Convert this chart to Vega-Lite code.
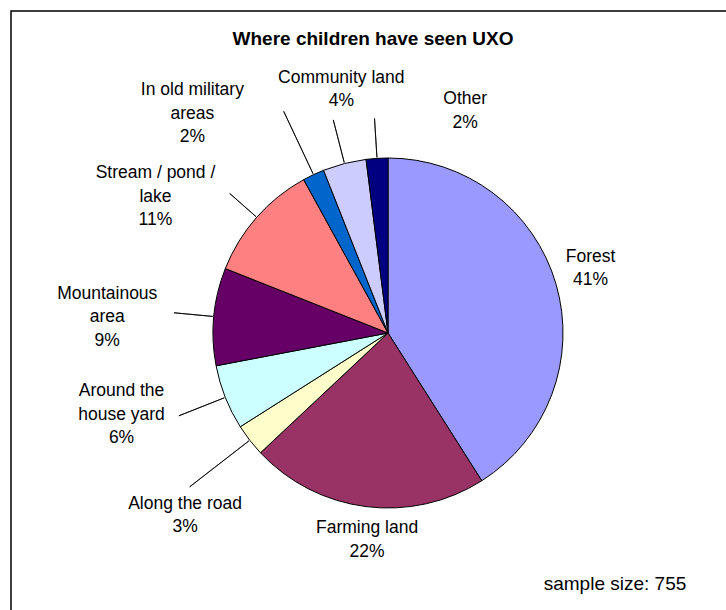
{
  "$schema": "https://vega.github.io/schema/vega-lite/v6.json",
  "autosize": "none",
  "width": 754,
  "height": 644,
  "padding": {"left": 11, "top": 11, "right": -39, "bottom": -45},
  "background": "white",
  "view": {"stroke": "#000000", "strokeWidth": 1.5},
  "config": {"view": {"stroke": "#000000", "strokeWidth": 1.5}, "font": "Liberation Sans"},
  "title": {"text": "Where children have seen UXO", "font": "Liberation Sans", "fontSize": 19, "fontWeight": "bold", "color": "#000000", "anchor": "middle", "frame": "group", "offset": -38, "dx": -15},
  "datasets": {
    "slices": [
      {"category": "Forest", "percent": 41, "rank": 1, "label": "Forest\n41%"},
      {"category": "Farming land", "percent": 22, "rank": 2, "label": "Farming land\n22%"},
      {"category": "Along the road", "percent": 3, "rank": 3, "label": "Along the road\n3%"},
      {"category": "Around the house yard", "percent": 6, "rank": 4, "label": "Around the\nhouse yard\n6%"},
      {"category": "Mountainous area", "percent": 9, "rank": 5, "label": "Mountainous\narea\n9%"},
      {"category": "Stream / pond / lake", "percent": 11, "rank": 6, "label": "Stream / pond /\nlake\n11%"},
      {"category": "In old military areas", "percent": 2, "rank": 7, "label": "In old military\nareas\n2%"},
      {"category": "Community land", "percent": 4, "rank": 8, "label": "Community land\n4%"},
      {"category": "Other", "percent": 2, "rank": 9, "label": "Other\n2%"}
    ],
    "note": [{"text": "sample size: 755"}]
  },
  "layer": [
    {
      "data": {"name": "slices"},
      "mark": {"type": "arc", "radius": 175, "stroke": "#000000", "strokeWidth": 1},
      "encoding": {
        "theta": {"field": "percent", "type": "quantitative", "stack": true},
        "order": {"field": "rank", "type": "quantitative"},
        "color": {
          "field": "category", "type": "nominal", "legend": null,
          "scale": {
            "domain": ["Forest", "Farming land", "Along the road", "Around the house yard", "Mountainous area", "Stream / pond / lake", "In old military areas", "Community land", "Other"],
            "range": ["#9999FF", "#993366", "#FFFFCC", "#CCFFFF", "#660066", "#FF8080", "#0066CC", "#CCCCFF", "#000080"]
          }
        }
      }
    },
    {
      "data": {"name": "slices"},
      "mark": {
        "type": "arc",
        "radius": {"expr": "{'Forest': 175, 'Farming land': 175, 'Along the road': 251, 'Around the house yard': 225, 'Mountainous area': 215, 'Stream / pond / lake': 211, 'In old military areas': 245, 'Community land': 220, 'Other': 215}[datum.category]"},
        "radius2": 176,
        "padAngle": 3.2,
        "fillOpacity": 0,
        "stroke": "#000000",
        "strokeWidth": 0.8
      },
      "encoding": {
        "theta": {"field": "percent", "type": "quantitative", "stack": true},
        "order": {"field": "rank", "type": "quantitative"},
        "strokeOpacity": {"condition": {"test": "datum.rank <= 2", "value": 0}, "value": 1}
      }
    },
    {
      "data": {"name": "slices"},
      "mark": {
        "type": "text",
        "font": "Liberation Sans",
        "fontSize": 17.5,
        "lineHeight": 23.5,
        "lineBreak": "\n",
        "align": "center",
        "baseline": "middle",
        "color": "#000000",
        "radius": {"expr": "{'Forest': 213, 'Farming land': 207, 'Along the road': 272, 'Around the house yard': 278, 'Mountainous area': 281, 'Stream / pond / lake': 270, 'In old military areas': 295, 'Community land': 248, 'Other': 235}[datum.category]"},
        "dx": {"expr": "{'Forest': -2, 'Farming land': 5, 'Along the road': 12, 'Around the house yard': -8, 'Mountainous area': -1, 'Stream / pond / lake': -30, 'In old military areas': -70, 'Community land': 15, 'Other': 92}[datum.category]"},
        "dy": {"expr": "{'Forest': -17, 'Farming land': -10, 'Along the road': 4, 'Around the house yard': -44, 'Mountainous area': -13, 'Stream / pond / lake': 19, 'In old military areas': 24, 'Community land': -15, 'Other': 1}[datum.category]"}
      },
      "encoding": {
        "theta": {"field": "percent", "type": "quantitative", "stack": true},
        "order": {"field": "rank", "type": "quantitative"},
        "text": {"field": "label", "type": "nominal"}
      }
    },
    {
      "data": {"name": "note"},
      "mark": {"type": "text", "font": "Liberation Sans", "fontSize": 19, "align": "center", "baseline": "alphabetic", "color": "#000000", "x": {"expr": "width - 150"}, "y": {"expr": "height - 65"}},
      "encoding": {"text": {"field": "text", "type": "nominal"}}
    }
  ]
}
